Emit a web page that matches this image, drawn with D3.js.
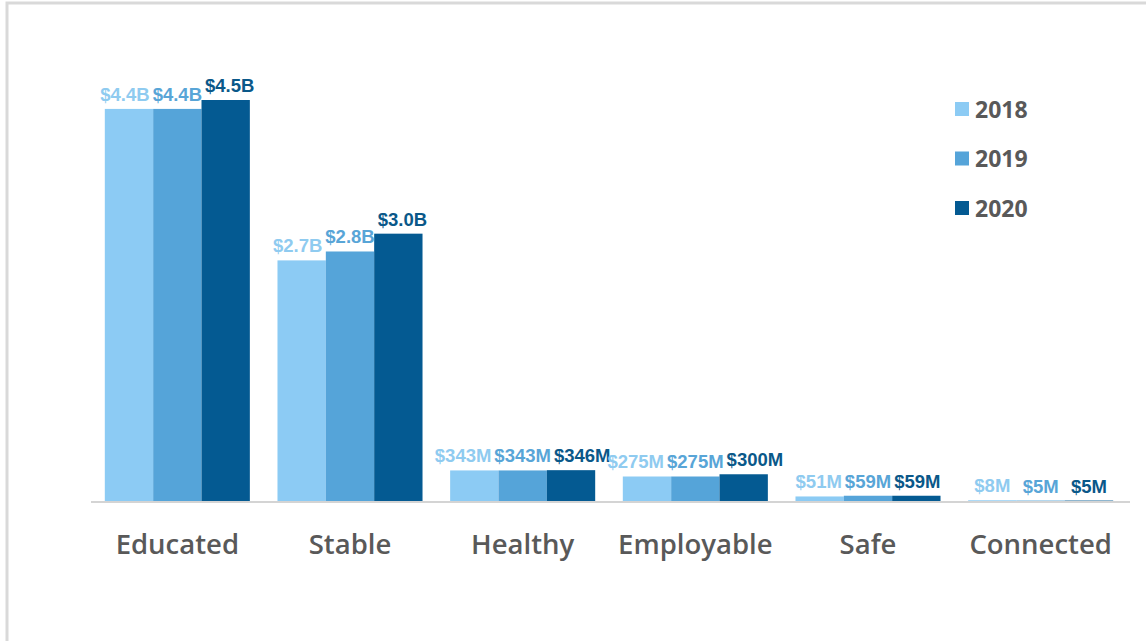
<!DOCTYPE html>
<html>
<head>
<meta charset="utf-8">
<script src="https://cdn.jsdelivr.net/npm/d3@7"></script>
<style>
  html, body { margin: 0; padding: 0; background: #fff; }
  svg { display: block; }
</style>
</head>
<body>
<svg id="chart" width="1146" height="641"></svg>
<script>
// Funding by outcome area, in millions of dollars
const categories = ["Educated", "Stable", "Healthy", "Employable", "Safe", "Connected"];
const years = ["2018", "2019", "2020"];
const values2018 = [4400, 2700, 343, 275, 51, 8];
const values2019 = [4400, 2800, 343, 275, 59, 5];
const values2020 = [4500, 3000, 346, 300, 59, 5];
const labels2018 = ["$4.4B", "$2.7B", "$343M", "$275M", "$51M", "$8M"];
const labels2019 = ["$4.4B", "$2.8B", "$343M", "$275M", "$59M", "$5M"];
const labels2020 = ["$4.5B", "$3.0B", "$346M", "$300M", "$59M", "$5M"];

const seriesValues = [values2018, values2019, values2020];
const seriesLabels = [labels2018, labels2019, labels2020];
const barColors = ["#8ccbf4", "#55a4d9", "#045a92"];
const labelColors = ["#8fcbf0", "#58a5d7", "#0a5889"];

const svg = d3.select("#chart");

// frame
svg.append("rect")
  .attr("x", 7).attr("y", 3)
  .attr("width", 1200).attr("height", 700)
  .attr("fill", "none")
  .attr("stroke", "#d9d9d9")
  .attr("stroke-width", 3);

const baseY = 501;
const x = d3.scaleBand()
  .domain(categories)
  .range([91, 1127])
  .paddingInner(0.16)
  .paddingOuter(0.08);

const xs = d3.scaleBand()
  .domain(years)
  .range([0, x.bandwidth()]);

const y = d3.scaleLinear()
  .domain([0, 4500])
  .range([baseY, 100]);

const rows = categories.map((c, i) => ({
  category: c,
  items: years.map((yr, j) => ({
    year: yr, idx: j,
    value: seriesValues[j][i],
    label: seriesLabels[j][i]
  }))
}));

const groups = svg.append("g").selectAll("g")
  .data(rows)
  .join("g")
  .attr("transform", d => `translate(${x(d.category)},0)`);

groups.selectAll("rect")
  .data(d => d.items)
  .join("rect")
  .attr("x", d => xs(d.year))
  .attr("width", xs.bandwidth())
  .attr("y", d => y(d.value))
  .attr("height", d => baseY - y(d.value))
  .attr("fill", d => barColors[d.idx]);

// baseline
svg.append("line")
  .attr("x1", 91).attr("x2", 1130)
  .attr("y1", baseY + 1).attr("y2", baseY + 1)
  .attr("stroke", "#d4d4d4")
  .attr("stroke-width", 2);

// value labels, spread apart where neighbours would collide
groups.each(function (row) {
  const g = d3.select(this);
  const texts = g.selectAll("text.val")
    .data(row.items)
    .join("text")
    .attr("class", "val")
    .attr("text-anchor", "middle")
    .attr("font-family", "'Liberation Sans', Arial, sans-serif")
    .attr("font-weight", "bold")
    .attr("font-size", 18.5)
    .attr("fill", d => labelColors[d.idx])
    .attr("y", d => y(d.value) - 8)
    .text(d => d.label);

  const widths = texts.nodes().map(n => n.getComputedTextLength());
  const cx = row.items.map(d => xs(d.year) + xs.bandwidth() / 2);
  const gap = 3;
  const need01 = (widths[0] + widths[1]) / 2 + gap;
  const need12 = (widths[1] + widths[2]) / 2 + gap;
  if (cx[1] - cx[0] < need01) cx[0] = cx[1] - need01;
  if (cx[2] - cx[1] < need12) cx[2] = cx[1] + need12;
  texts.attr("x", (d, i) => cx[i]);
});

// category axis labels
svg.append("g").selectAll("text")
  .data(categories)
  .join("text")
  .attr("x", d => x(d) + x.bandwidth() / 2)
  .attr("y", 554)
  .attr("text-anchor", "middle")
  .attr("font-family", "'Open Sans', sans-serif")
  .attr("font-weight", 600)
  .attr("font-size", 27.5)
  .attr("fill", "#595959")
  .text(d => d);

// legend
const legend = svg.append("g").selectAll("g")
  .data(years)
  .join("g")
  .attr("transform", (d, i) => `translate(955,${102 + i * 49.5})`);

legend.append("rect")
  .attr("width", 14).attr("height", 14)
  .attr("fill", (d, i) => barColors[i]);

legend.append("text")
  .attr("x", 20).attr("y", 15.5)
  .attr("font-family", "'Open Sans', sans-serif")
  .attr("font-weight", 700)
  .attr("font-size", 23)
  .attr("fill", "#595959")
  .text(d => d);
</script>
</body>
</html>
